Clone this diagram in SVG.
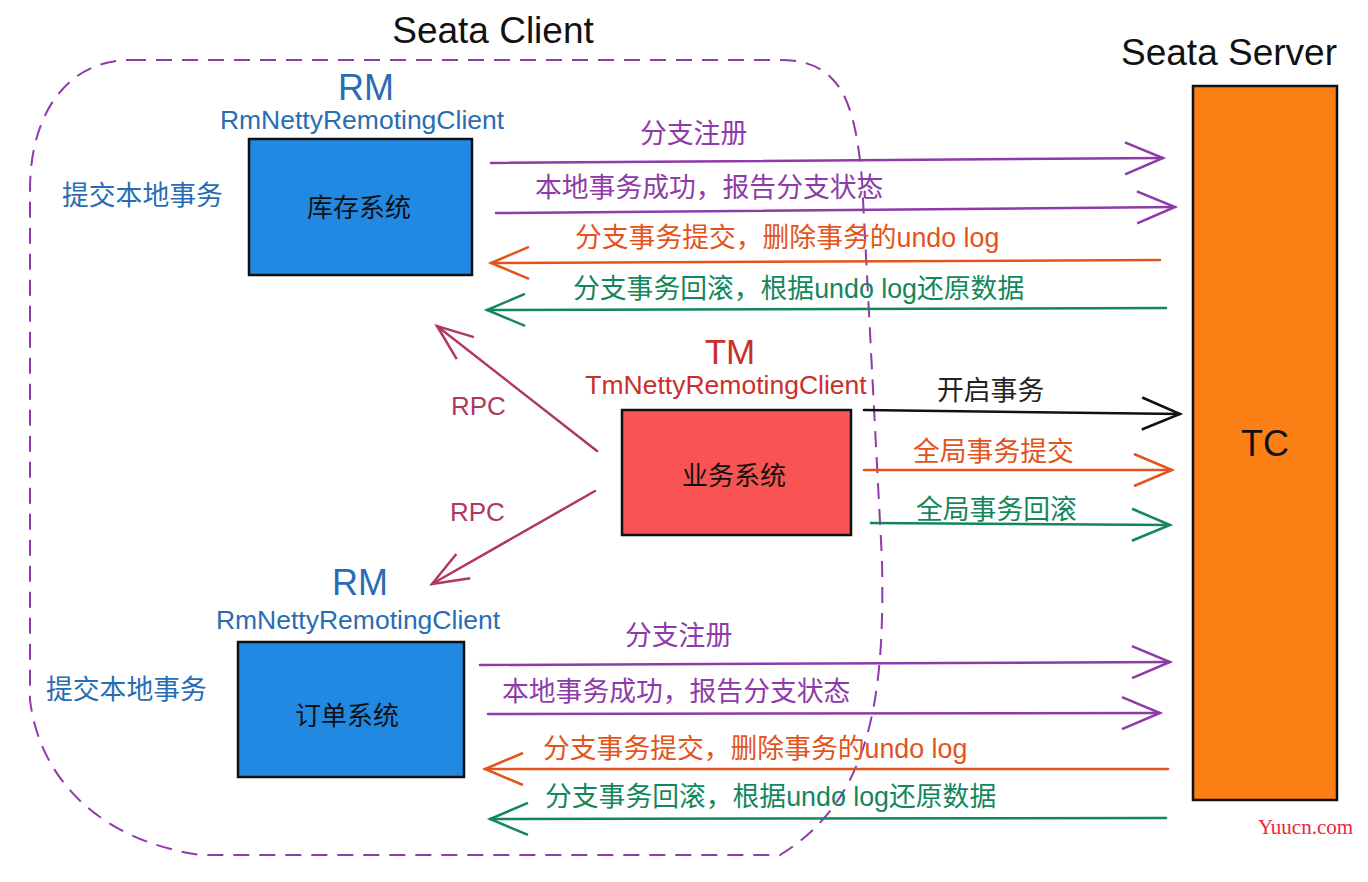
<svg xmlns="http://www.w3.org/2000/svg" width="1368" height="882" viewBox="0 0 1368 882">
<style>
.t{font-family:"Liberation Sans","Noto Sans CJK SC",sans-serif}
.c{text-anchor:middle}
.blue{fill:#2a6cb3}
.red{fill:#c9302c}
.pur{fill:#8e3aa8}
.org{fill:#e3541c}
.grn{fill:#13875b}
.rpc{fill:#b13761}
.box{stroke:#111;stroke-width:2.5}
.ln{fill:none;stroke-width:2.5;stroke-linecap:round}
.lb{font-size:26.8px}
</style>
<defs>
<marker id="aP" markerUnits="userSpaceOnUse" markerWidth="46" markerHeight="42" viewBox="-42 -21 46 42" refX="0" refY="0" orient="auto"><path d="M-38,-16 L0,0 L-38,16" fill="none" stroke="#8e3aa8" stroke-width="2.5"/></marker>
<marker id="aO" markerUnits="userSpaceOnUse" markerWidth="46" markerHeight="42" viewBox="-42 -21 46 42" refX="0" refY="0" orient="auto"><path d="M-38,-16 L0,0 L-38,16" fill="none" stroke="#e3541c" stroke-width="2.5"/></marker>
<marker id="aG" markerUnits="userSpaceOnUse" markerWidth="46" markerHeight="42" viewBox="-42 -21 46 42" refX="0" refY="0" orient="auto"><path d="M-38,-16 L0,0 L-38,16" fill="none" stroke="#13875b" stroke-width="2.5"/></marker>
<marker id="aK" markerUnits="userSpaceOnUse" markerWidth="46" markerHeight="42" viewBox="-42 -21 46 42" refX="0" refY="0" orient="auto"><path d="M-38,-16 L0,0 L-38,16" fill="none" stroke="#111" stroke-width="2.5"/></marker>
<marker id="aR" markerUnits="userSpaceOnUse" markerWidth="46" markerHeight="42" viewBox="-42 -21 46 42" refX="0" refY="0" orient="auto"><path d="M-36,-14 L0,0 L-36,14" fill="none" stroke="#b13761" stroke-width="2.5"/></marker>
</defs>
<rect width="1368" height="882" fill="#fff"/>

<g id="client-boundary">
<path d="M130,60 L780,60 C840,60 855,100 862,180 L882,560 C885,700 870,800 780,855 L200,855 C100,840 40,780 30,700 L30,190 C30,110 70,60 130,60 Z" fill="none" stroke="#8e3aa8" stroke-width="2" stroke-dasharray="16,10"/>
<text class="t c" x="493" y="43" font-size="37" fill="#111">Seata Client</text>
</g>

<g id="tc">
<text class="t c" x="1229" y="65" font-size="37" fill="#111">Seata Server</text>
<rect class="box" x="1193" y="86" width="144" height="714" fill="#fc7f16"/>
<text class="t c" x="1265" y="456" font-size="36" fill="#111">TC</text>
</g>

<g id="rm-stock">
<text class="t c blue" x="366" y="100" font-size="36">RM</text>
<text class="t c blue" x="362" y="129" font-size="26.5">RmNettyRemotingClient</text>
<rect class="box" x="249" y="139" width="223" height="136" fill="#2289e3"/>
<text class="t c" x="359" y="217" font-size="26" fill="#111">库存系统</text>
<text class="t blue lb" x="62" y="205">提交本地事务</text>
</g>

<g id="tm">
<text class="t c red" x="730" y="364" font-size="35">TM</text>
<text class="t c red" x="726" y="394" font-size="26.5">TmNettyRemotingClient</text>
<rect class="box" x="622" y="410" width="229" height="125" fill="#f95353"/>
<text class="t c" x="734" y="485" font-size="26" fill="#111">业务系统</text>
</g>

<g id="rm-order">
<text class="t c blue" x="360" y="595" font-size="36">RM</text>
<text class="t c blue" x="358" y="629" font-size="26.5">RmNettyRemotingClient</text>
<rect class="box" x="238" y="642" width="226" height="135" fill="#2289e3"/>
<text class="t c" x="347" y="725" font-size="26" fill="#111">订单系统</text>
<text class="t blue lb" x="46" y="699">提交本地事务</text>
</g>

<g id="connectors">
<line class="ln" x1="491" y1="163" x2="1163" y2="158" stroke="#8e3aa8" marker-end="url(#aP)"/>
<text class="t pur lb" x="640" y="143">分支注册</text>
<line class="ln" x1="496" y1="213" x2="1175" y2="207" stroke="#8e3aa8" marker-end="url(#aP)"/>
<text class="t pur lb" x="535" y="197">本地事务成功，报告分支状态</text>
<line class="ln" x1="1160" y1="260" x2="491" y2="263" stroke="#e3541c" marker-end="url(#aO)"/>
<text class="t org lb" x="575" y="247">分支事务提交，删除事务的undo log</text>
<line class="ln" x1="1166" y1="308" x2="487" y2="310" stroke="#13875b" marker-end="url(#aG)"/>
<text class="t grn lb" x="573" y="298">分支事务回滚，根据undo log还原数据</text>

<line class="ln" x1="597" y1="451" x2="437" y2="326" stroke="#b13761" marker-end="url(#aR)"/>
<text class="t rpc" x="451" y="415" font-size="26">RPC</text>
<line class="ln" x1="595" y1="491" x2="432" y2="584" stroke="#b13761" marker-end="url(#aR)"/>
<text class="t rpc" x="450" y="521" font-size="26">RPC</text>

<line class="ln" x1="864" y1="410" x2="1180" y2="414" stroke="#111" marker-end="url(#aK)"/>
<text class="t lb" x="937" y="400" fill="#222">开启事务</text>
<line class="ln" x1="864" y1="470" x2="1172" y2="470" stroke="#e3541c" marker-end="url(#aO)"/>
<text class="t org lb" x="913" y="461">全局事务提交</text>
<line class="ln" x1="871" y1="523" x2="1170" y2="525" stroke="#13875b" marker-end="url(#aG)"/>
<text class="t grn lb" x="916" y="519">全局事务回滚</text>

<line class="ln" x1="480" y1="665" x2="1170" y2="662" stroke="#8e3aa8" marker-end="url(#aP)"/>
<text class="t pur lb" x="625" y="645">分支注册</text>
<line class="ln" x1="488" y1="714" x2="1160" y2="713" stroke="#8e3aa8" marker-end="url(#aP)"/>
<text class="t pur lb" x="502" y="701">本地事务成功，报告分支状态</text>
<line class="ln" x1="1168" y1="769" x2="485" y2="769" stroke="#e3541c" marker-end="url(#aO)"/>
<text class="t org lb" x="543" y="758">分支事务提交，删除事务的undo log</text>
<line class="ln" x1="1166" y1="818" x2="490" y2="819" stroke="#13875b" marker-end="url(#aG)"/>
<text class="t grn lb" x="545" y="806">分支事务回滚，根据undo log还原数据</text>
</g>

<text x="1258" y="834" font-family="Liberation Serif, serif" font-size="21" fill="#f0243a">Yuucn.com</text>
</svg>
